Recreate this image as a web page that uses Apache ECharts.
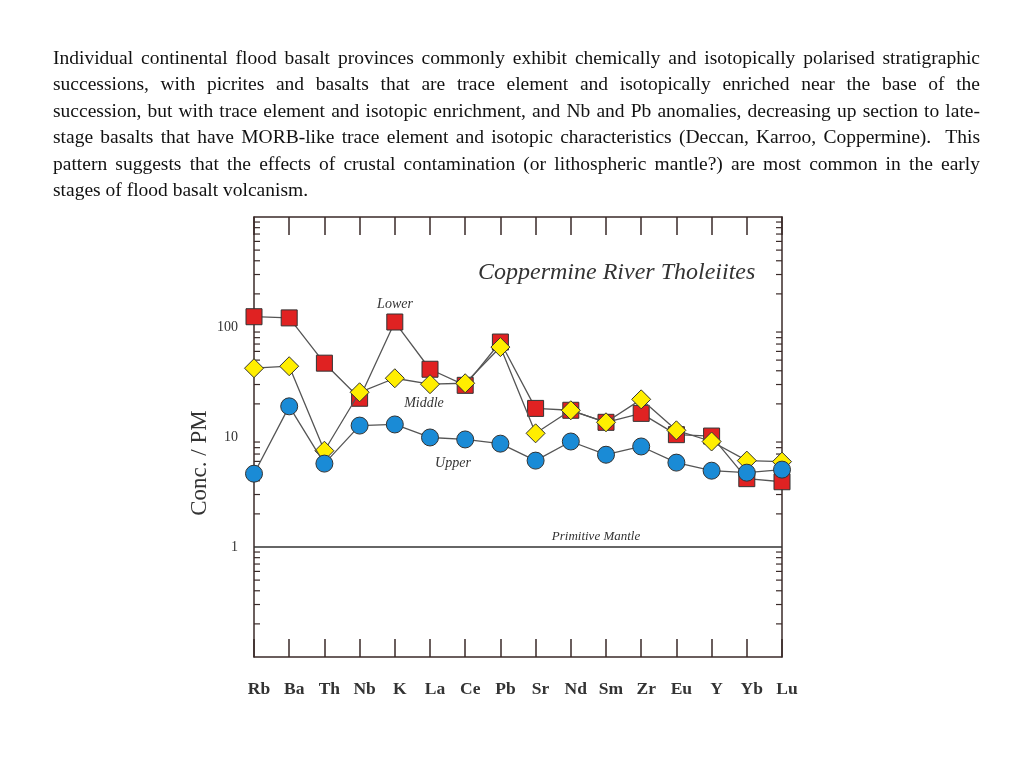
<!DOCTYPE html>
<html>
<head>
<meta charset="utf-8">
<script src="https://cdn.jsdelivr.net/npm/echarts@6/dist/echarts.min.js"></script>
<style>
  html, body { margin: 0; padding: 0; background: #fff; }
  #chart { position: absolute; left: 0; top: 0; width: 1024px; height: 768px; }
  #para { position: absolute; left: 53px; top: 45px; width: 927px; z-index: 2;
          font-family: "Liberation Serif", "Times New Roman", serif; font-size: 19.5px;
          line-height: 26.4px; color: #111; }
  #para div { text-align: justify; text-align-last: justify; white-space: nowrap; }
  #para div.last { text-align-last: left; }
</style>
</head>
<body>
<div id="chart"></div>
<div id="para">
  <div>Individual continental flood basalt provinces commonly exhibit chemically and isotopically polarised stratigraphic</div>
  <div>successions, with picrites and basalts that are trace element and isotopically enriched near the base of the</div>
  <div>succession, but with trace element and isotopic enrichment, and Nb and Pb anomalies, decreasing up section to late-</div>
  <div>stage basalts that have MORB-like trace element and isotopic characteristics (Deccan, Karroo, Coppermine).&nbsp; This</div>
  <div>pattern suggests that the effects of crustal contamination (or lithospheric mantle?) are most common in the early</div>
  <div class="last">stages of flood basalt volcanism.</div>
</div>
<script>
const categories = ['Rb','Ba','Th','Nb','K','La','Ce','Pb','Sr','Nd','Sm','Zr','Eu','Y','Yb','Lu'];
const lowerValues  = [124, 121, 46.9, 22.5, 111, 41.3, 29.5, 73, 18.2, 17.5, 13.6, 16.4, 10.5, 10.2, 4.18, 3.92];
const middleValues = [42.2, 44, 7.5, 25.5, 34.2, 30.2, 30.8, 65.7, 10.8, 17.5, 13.6, 22, 11.5, 9.1, 6.1, 5.97];
const upperValues  = [4.64, 19, 5.73, 12.7, 13, 9.9, 9.5, 8.7, 6.1, 9.1, 6.9, 8.2, 5.85, 4.94, 4.74, 5.05];
const yLabelValues = [1, 10, 100];
const primitiveMantle = 1;
const minorTickValues = [0.2,0.3,0.4,0.5,0.6,0.7,0.8,0.9, 2,3,4,5,6,7,8,9, 20,30,40,50,60,70,80,90, 200,300,400,500,600,700,800,900];

const serif = '"Liberation Serif", "Times New Roman", serif';
const axisColor = '#3a2a28';
const chart = echarts.init(document.getElementById('chart'));

const lineStyle = { color: '#555', width: 1.3 };
const itemBorder = { borderColor: '#333', borderWidth: 1 };

const option = {
  backgroundColor: '#fff',
  animation: false,
  title: {
    text: 'Coppermine River Tholeiites',
    left: 473, top: 256,
    textStyle: { fontFamily: serif, fontStyle: 'italic', fontWeight: 'normal', fontSize: 24, color: '#333' }
  },
  grid: { left: 254, right: 242, top: 217, bottom: 111, containLabel: false },
  xAxis: [{
    type: 'category', data: categories, boundaryGap: false, position: 'bottom',
    axisLine: { lineStyle: { color: axisColor, width: 1.5 } },
    axisTick: { inside: true, length: 18, lineStyle: { color: axisColor, width: 1.5 } },
    axisLabel: { margin: 23, padding: [0, 0, 0, 10], fontFamily: serif, fontSize: 17.5, fontWeight: 'bold', color: '#333', interval: 0 },
    splitLine: { show: false }
  }, {
    type: 'category', data: categories, boundaryGap: false, position: 'top',
    axisLine: { lineStyle: { color: axisColor, width: 1.5 } },
    axisTick: { inside: true, length: 18, lineStyle: { color: axisColor, width: 1.5 } },
    axisLabel: { show: false }, splitLine: { show: false }
  }],
  yAxis: [{
    type: 'log', logBase: 10, min: 0.1, max: 1000, position: 'left',
    axisLine: { show: true, lineStyle: { color: axisColor, width: 1.5 } },
    axisTick: { inside: true, length: 12, lineStyle: { color: axisColor, width: 1.5 } },
    axisLabel: {
      margin: 16, fontFamily: serif, fontSize: 14, color: '#333',
      formatter: v => (yLabelValues.some(t => Math.abs(t - v) < 1e-6 * t) ? String(Math.round(v)) : '')
    },
    splitLine: { show: false }
  }, {
    type: 'log', logBase: 10, min: 0.1, max: 1000, position: 'right',
    axisLine: { show: true, lineStyle: { color: axisColor, width: 1.5 } },
    axisTick: { inside: true, length: 12, lineStyle: { color: axisColor, width: 1.5 } },
    axisLabel: { show: false }, splitLine: { show: false }
  }],
  graphic: [
    { type: 'text', x: 200, y: 463, rotation: Math.PI / 2,
      style: { text: 'Conc. / PM', font: '23px ' + serif, fill: '#333', textAlign: 'center', textVerticalAlign: 'middle' } },
    { type: 'text', x: 395, y: 304, style: { text: 'Lower', font: 'italic 14px ' + serif, fill: '#333', textAlign: 'center', textVerticalAlign: 'middle' } },
    { type: 'text', x: 424, y: 403, style: { text: 'Middle', font: 'italic 14px ' + serif, fill: '#333', textAlign: 'center', textVerticalAlign: 'middle' } },
    { type: 'text', x: 453, y: 463, style: { text: 'Upper', font: 'italic 14px ' + serif, fill: '#333', textAlign: 'center', textVerticalAlign: 'middle' } },
    { type: 'text', x: 596, y: 537, style: { text: 'Primitive Mantle', font: 'italic 13px ' + serif, fill: '#333', textAlign: 'center', textVerticalAlign: 'middle' } }
  ],
  series: [{
    type: 'custom', name: 'minorTicks', silent: true, z: 1,
    data: minorTickValues.map(v => [0, v]),
    renderItem: function (params, api) {
      const v = api.value(1);
      const pl = api.coord([0, v]);
      const pr = api.coord([categories.length - 1, v]);
      return { type: 'group', children: [
        { type: 'line', shape: { x1: pl[0], y1: pl[1], x2: pl[0] + 6, y2: pl[1] }, style: { stroke: axisColor, lineWidth: 1.2 } },
        { type: 'line', shape: { x1: pr[0], y1: pr[1], x2: pr[0] - 6, y2: pr[1] }, style: { stroke: axisColor, lineWidth: 1.2 } }
      ] };
    }
  }, {
    type: 'line', name: 'Lower', data: lowerValues, symbol: 'rect', symbolSize: 16, z: 3,
    lineStyle: lineStyle, itemStyle: Object.assign({ color: '#e02222' }, itemBorder),
    markLine: {
      silent: true, symbol: ['none', 'none'], label: { show: false },
      lineStyle: { color: '#333', width: 1.5, type: 'solid' },
      data: [{ yAxis: primitiveMantle }]
    }
  }, {
    type: 'line', name: 'Middle', data: middleValues, symbol: 'diamond', symbolSize: 19, z: 4,
    lineStyle: lineStyle, itemStyle: Object.assign({ color: '#ffee00' }, itemBorder)
  }, {
    type: 'line', name: 'Upper', data: upperValues, symbol: 'circle', symbolSize: 17, z: 5,
    lineStyle: lineStyle, itemStyle: Object.assign({ color: '#1a8bd6' }, itemBorder)
  }]
};
chart.setOption(option);
</script>
</body>
</html>
